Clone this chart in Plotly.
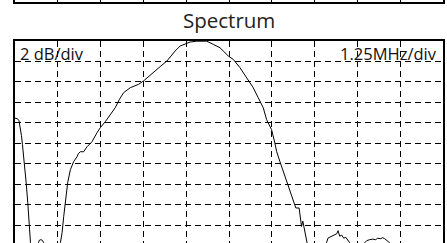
import plotly.graph_objects as go

# Frequency offset (MHz) and level (dB)
freq_mhz = [-6.25, -6.177, -6.134, -6.104, -6.061, -6.032, -5.973, -5.924, -5.877, -5.848,
            -5.798, -5.740, -5.624, -5.565, -5.536, -5.493, -5.449, -5.411, -5.361, -5.157,
            -4.983, -4.924, -4.875, -4.828, -4.779, -4.712, -4.633, -4.537, -4.438, -4.400,
            -4.342, -4.245, -4.146, -4.001, -3.855, -3.759, -3.613, -3.467, -3.322, -3.205,
            -3.080, -2.885, -2.643, -2.497, -2.360, -2.206, -2.011, -1.815, -1.690, -1.573,
            -1.428, -1.282, -1.136, -0.941, -0.650, -0.457, -0.262, -0.020, 0.125, 0.321,
            0.562, 0.708, 0.854, 0.999, 1.099, 1.244, 1.340, 1.390, 1.486, 1.632,
            1.777, 1.844, 1.903, 1.952, 2.048, 2.089, 2.118, 2.156, 2.200, 2.264,
            2.331, 2.593, 2.847, 2.893, 2.992, 3.089, 3.147, 3.185, 3.234, 3.293,
            3.351, 3.409, 3.467, 3.526, 3.613, 3.846, 3.963, 4.021, 4.108, 4.196,
            4.283, 4.342, 4.429, 4.487, 4.545, 4.604, 4.691, 4.779, 5.274, 5.857, 6.25]
level_db = [-7.55, -7.60, -7.79, -8.28, -9.26, -10.14, -11.90, -13.86, -15.81, -17.77,
            -19.73, -20.9, -20.6, -19.73, -19.48, -19.43, -19.50, -19.73, -20.41, -20.80,
            -20.41, -19.73, -18.75, -17.18, -15.52, -13.86, -12.59, -11.80, -11.32, -11.02,
            -10.83, -10.83, -10.34, -9.85, -8.97, -8.48, -7.89, -7.21, -6.52, -5.74,
            -5.06, -4.57, -4.24, -3.91, -3.49, -3.10, -2.51, -1.96, -1.44, -0.98,
            -0.49, -0.33, -0.10, -0.02, -0.02, -0.33, -0.66, -1.47, -1.80, -2.61,
            -3.76, -4.57, -5.55, -6.52, -7.70, -8.67, -9.98, -10.80, -11.78, -13.24,
            -14.54, -15.20, -15.84, -16.33, -16.33, -17.15, -18.13, -17.62, -18.45, -19.73,
            -20.6, -20.8, -19.73, -19.27, -19.11, -18.94, -18.85, -18.55, -19.09, -18.99,
            -19.29, -19.19, -19.43, -19.73, -20.6, -20.5, -19.73, -19.53, -19.43, -19.38,
            -19.43, -19.29, -19.33, -19.24, -19.33, -19.53, -19.73, -20.6, -20.8, -20.5, -20.7]

title_text = "Spectrum"
y_scale_label = "2 dB/div"
x_scale_label = "1.25MHz/div"
x_span = [-6.25, 6.25]
x_div = 1.25
y_top = 0
y_div = 2

W, H = 447, 243
main_top_px = 41
stub_px = 2

fig = go.Figure()
fig.add_trace(go.Scatter(x=freq_mhz, y=level_db, mode="lines",
                         line=dict(color="black", width=1), showlegend=False,
                         hoverinfo="skip", xaxis="x", yaxis="y"))

font = "Open Sans, Noto Sans, sans-serif"
grid_dash = "6px,4px"

fig.update_layout(
    width=W, height=H,
    margin=dict(l=15, r=4, t=0, b=0),
    paper_bgcolor="white", plot_bgcolor="white",
    xaxis=dict(range=x_span, tick0=x_span[0], dtick=x_div, showticklabels=False,
               ticks="", showgrid=True, gridcolor="black", gridwidth=1, griddash=grid_dash,
               zeroline=False, showline=True, linecolor="black", linewidth=2,
               side="top", mirror=False, anchor="y", fixedrange=True),
    yaxis=dict(range=[y_top - y_div * (H - main_top_px) / 20.45, y_top],
               domain=[0, (H - main_top_px) / H],
               tick0=y_top, dtick=y_div, showticklabels=False, ticks="",
               showgrid=True, gridcolor="black", gridwidth=1, griddash=grid_dash,
               zeroline=False, showline=True, mirror=True, linecolor="black",
               linewidth=2, anchor="x", fixedrange=True),
    xaxis2=dict(range=x_span, tick0=x_span[0], dtick=x_div, showticklabels=False,
                ticks="", showgrid=True, gridcolor="black", gridwidth=1,
                zeroline=False, showline=True, linecolor="black", linewidth=2,
                anchor="y2", fixedrange=True),
    yaxis2=dict(range=[0, 1], domain=[1 - stub_px / H, 1], showticklabels=False,
                ticks="", showgrid=False, zeroline=False, showline=True, mirror=True,
                linecolor="black", linewidth=2, anchor="x2", fixedrange=True),
)

fig.add_trace(go.Scatter(x=[None], y=[None], xaxis="x2", yaxis="y2", showlegend=False))

fig.add_annotation(text=title_text, xref="paper", yref="paper", x=0.5, y=1 - 19.5 / H,
                   xanchor="center", yanchor="middle", showarrow=False,
                   font=dict(family=font, size=20.5, color="#222"))
fig.add_annotation(text=y_scale_label, xref="paper", yref="paper", x=0, xshift=3,
                   y=1 - 53 / H, xanchor="left", yanchor="middle", showarrow=False,
                   font=dict(family=font, size=16.5, color="#111"))
fig.add_annotation(text=x_scale_label, xref="paper", yref="paper", x=1, xshift=-4,
                   y=1 - 53 / H, xanchor="right", yanchor="middle", showarrow=False,
                   font=dict(family=font, size=16.5, color="#111"))

fig.write_html("out.html", config={"displayModeBar": False},
               post_script="document.body.style.margin='0px';document.body.style.overflow='hidden';")
